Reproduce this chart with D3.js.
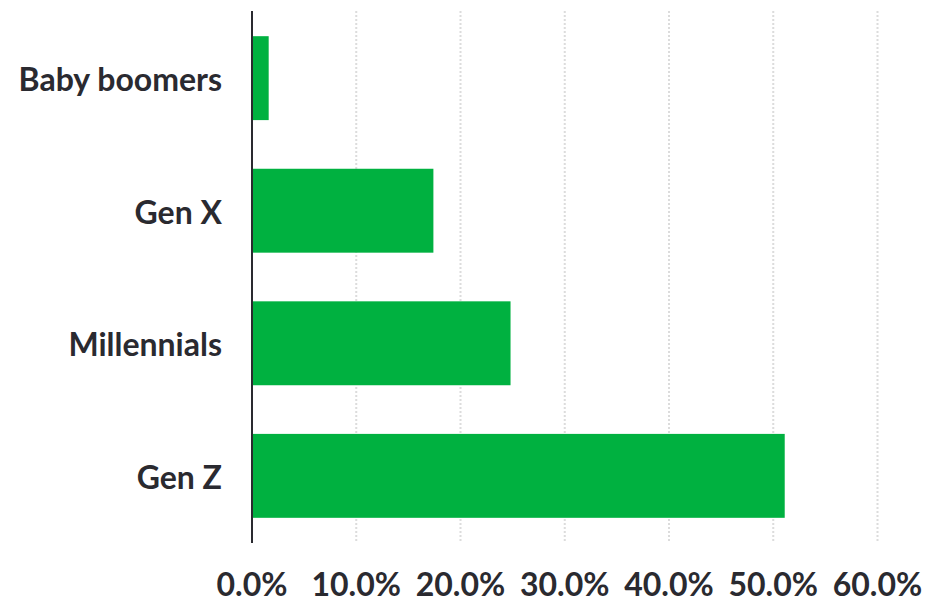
<!doctype html>
<html lang="en">
<head>
    <meta charset="utf-8">
    <script src="https://d3js.org/d3.v7.min.js"></script>
    <title>Generations</title>
    <style>
        body { margin: 0; background: white; }
        text { font-family: Lato, sans-serif; font-weight: 700; fill: #2a2a30; }
    </style>
</head>
<body>
    <svg id="svg"></svg>
    <script>
        // chart data
        let categories = ["Baby boomers", "Gen X", "Millennials", "Gen Z"];
        let values = [1.6, 17.4, 24.8, 51.1];
        let tickValues = [0, 10, 20, 30, 40, 50, 60];

        let width = 928, height = 600;
        let margin = { top: 11, right: 50, bottom: 57, left: 252 };

        let svg = d3.select("#svg").attr("width", width).attr("height", height);

        let xScale = d3.scaleLinear().domain([0, 60]).range([margin.left, 877.5]);
        let yScale = d3.scaleBand().domain(categories)
            .range([margin.top, height - margin.bottom])
            .paddingInner(0.367).paddingOuter(0.19);

        // dotted grid lines
        svg.append("g")
            .selectAll("line")
            .data(tickValues.slice(1))
            .join("line")
            .attr("x1", d => xScale(d)).attr("x2", d => xScale(d))
            .attr("y1", margin.top).attr("y2", height - margin.bottom - 2)
            .attr("stroke", "#dcdcdc")
            .attr("stroke-width", 2)
            .attr("stroke-dasharray", "2,2");

        // bars
        svg.append("g")
            .selectAll("rect")
            .data(values)
            .join("rect")
            .attr("x", xScale(0))
            .attr("y", (d, i) => yScale(categories[i]))
            .attr("width", d => xScale(d) - xScale(0))
            .attr("height", yScale.bandwidth())
            .attr("fill", "#00b140");

        // vertical axis line
        svg.append("line")
            .attr("x1", xScale(0)).attr("x2", xScale(0))
            .attr("y1", margin.top).attr("y2", height - margin.bottom)
            .attr("stroke", "#2a2a30")
            .attr("stroke-width", 2);

        // category labels
        svg.append("g")
            .selectAll("text")
            .data(categories)
            .join("text")
            .attr("x", xScale(0) - 30)
            .attr("y", d => yScale(d) + yScale.bandwidth() / 2)
            .attr("dy", "0.41em")
            .attr("text-anchor", "end")
            .attr("font-size", 32)
            .text(d => d);

        // x tick labels
        svg.append("g")
            .selectAll("text")
            .data(tickValues)
            .join("text")
            .attr("x", d => xScale(d))
            .attr("y", 596)
            .attr("text-anchor", "middle")
            .attr("font-size", 32)
            .text(d => d3.format(".1f")(d) + "%");
    </script>
</body>
</html>
